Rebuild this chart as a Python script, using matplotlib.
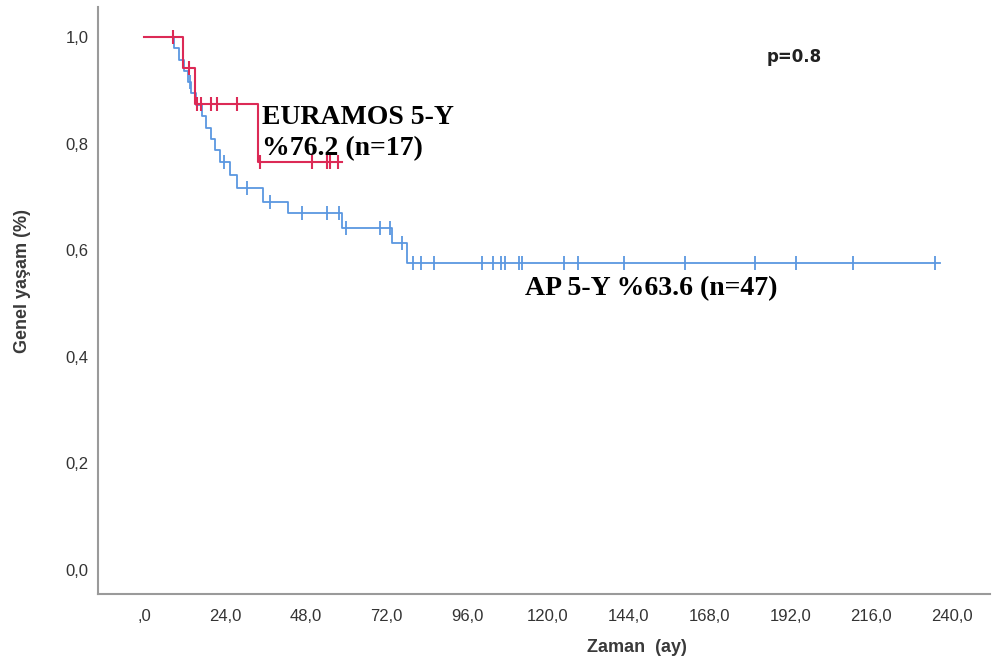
import numpy as np
import matplotlib.pyplot as plt

# EURAMOS grubu (n=17): Kaplan-Meier basamaklari
eur_zaman = [0, 11.6, 15.2, 33.8, 58.7]
eur_sag = [1.0, 0.941, 0.875, 0.766, 0.766]
eur_sansur = [8.6, 13.3, 15.7, 16.8, 20.0, 21.6, 27.6, 34.5, 49.8, 54.3, 55.2, 57.6]

# AP grubu (n=47)
ap_zaman = [0, 9.0, 10.5, 12.0, 13.0, 14.0, 15.3, 17.3, 18.5, 20.0, 21.2, 22.5,
            25.5, 27.5, 35.4, 42.9, 58.7, 73.6, 78.0, 236.4]
ap_sag = [1.0, 0.979, 0.957, 0.936, 0.915, 0.894, 0.872, 0.851, 0.830, 0.808,
          0.787, 0.765, 0.741, 0.717, 0.691, 0.669, 0.642, 0.613, 0.575, 0.575]
ap_sansur = [11.6, 13.5, 23.6, 30.5, 37.3, 46.8, 54.2, 58.0, 60.0, 70.1, 73.1, 76.5,
             80.0, 82.2, 86.2, 100.3, 103.6, 106.0, 107.2, 111.4, 112.4, 124.9,
             129.0, 142.6, 160.8, 181.5, 193.6, 210.7, 235.0]

x_ticks = [0, 24, 48, 72, 96, 120, 144, 168, 192, 216, 240]
x_etiket = [",0", "24,0", "48,0", "72,0", "96,0", "120,0", "144,0", "168,0",
            "192,0", "216,0", "240,0"]
y_ticks = [0, 0.2, 0.4, 0.6, 0.8, 1.0]
y_etiket = ["0,0", "0,2", "0,4", "0,6", "0,8", "1,0"]

kirmizi = "#dc2a56"
mavi = "#5b97e0"


def km_deger(zaman, sag, t):
    # sansur noktasinin egri uzerindeki degeri
    i = np.searchsorted(zaman, t, side="right") - 1
    return np.array(sag)[i]


fig = plt.figure(figsize=(9.92, 6.69), dpi=100)
ax = fig.add_axes([0.0988, 0.112, 0.899, 0.8775])

ax.step(ap_zaman, ap_sag, where="post", color=mavi, lw=1.3)
ax.plot(ap_sansur, km_deger(ap_zaman, ap_sag, ap_sansur), ls="none",
        marker="|", ms=10, mew=1.3, color=mavi)

ax.step(eur_zaman, eur_sag, where="post", color=kirmizi, lw=1.5)
ax.plot(eur_sansur, km_deger(eur_zaman, eur_sag, eur_sansur), ls="none",
        marker="|", ms=10, mew=1.5, color=kirmizi)

ax.set_xlim(-13.7, 251.3)
ax.set_ylim(-0.045, 1.056)
ax.set_xticks(x_ticks)
ax.set_xticklabels(x_etiket)
ax.set_yticks(y_ticks)
ax.set_yticklabels(y_etiket)
ax.tick_params(length=0, labelsize=12, labelcolor="#333333")
ax.tick_params(axis="x", pad=11)
ax.tick_params(axis="y", pad=7)
for lab in ax.get_xticklabels() + ax.get_yticklabels():
    lab.set_family("Liberation Sans")

for s in ["top", "right"]:
    ax.spines[s].set_visible(False)
for s in ["left", "bottom"]:
    ax.spines[s].set_color("#9a9a9a")
    ax.spines[s].set_linewidth(1.5)

serif = dict(family="Liberation Serif", fontweight="bold", fontsize=20, color="black")
ax.text(35.0, 0.837, "EURAMOS 5-Y", va="baseline", **serif)
ax.text(35.0, 0.779, "%76.2 (n=17)", va="baseline", **serif)
ax.text(113.2, 0.516, "AP 5-Y %63.6 (n=47)", va="baseline", **serif)

ax.text(185.0, 0.953, "p=0.8", va="baseline", fontsize=12, fontweight="bold",
        family="DejaVu Sans", color="#222222")

fig.text(637 / 992, 1 - 648 / 669, "Zaman  (ay)", ha="center", va="center",
         fontsize=13, fontweight="bold", family="Liberation Sans", color="#3a3a3a")
fig.text(23 / 992, 1 - 281 / 669, "Genel yaşam (%)", ha="center", va="center",
         rotation=90, fontsize=13, fontweight="bold", family="Liberation Sans",
         color="#3a3a3a")

fig.savefig("out.png", dpi=100)
